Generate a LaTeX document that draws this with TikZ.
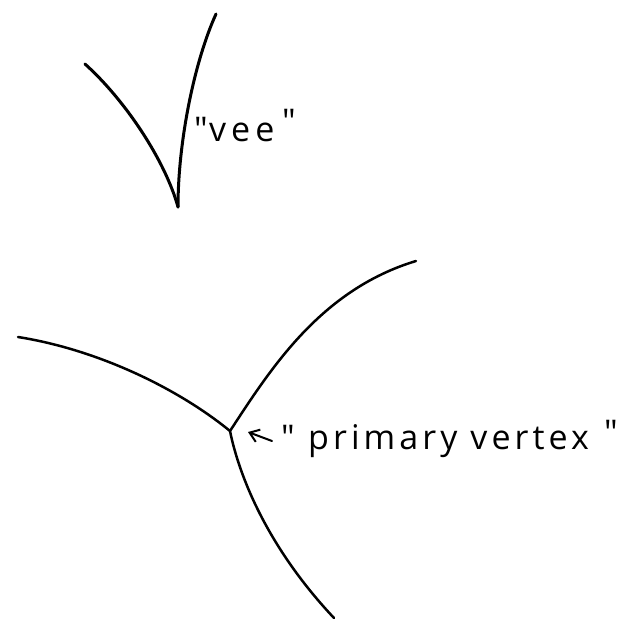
\documentclass[tikz,border=0pt]{standalone}
\usepackage{fontspec}
\newfontfamily\lblfont{Open Sans}[LetterSpace=12]
\usetikzlibrary{arrows.meta}
\begin{document}
\begin{tikzpicture}[x=1pt,y=-1pt,
  vstroke/.style={line width=3pt, line cap=round, line join=round},
  bstroke/.style={line width=2.5pt, line cap=round, line join=round},
  lbl/.style={font=\lblfont\fontsize{34}{40}\selectfont, inner sep=0pt, anchor=base west},
  ptr/.style={line width=2pt, line cap=round, -{Straight Barb[length=9pt,width=13pt]}}]
\useasboundingbox (0,0) rectangle (626,623);
% vee
\coordinate (vL) at (85,64);
\coordinate (vB) at (178,207);
\coordinate (vR) at (216,14);
\draw[vstroke] (vL) .. controls (125,100) and (165,160) .. (vB);
\draw[vstroke] (vB) .. controls (178,140) and (195,60) .. (vR);
\node[lbl] (vq1) at (194,141) {\symbol{34}};
\node[lbl] (vee) at (209,141) {v\kern5pt e\kern5pt e};
\node[lbl] (vq2) at (282,134) {\symbol{34}};
% primary vertex
\coordinate (pv) at (230,431);
\coordinate (eL) at (18,337);
\coordinate (eR) at (416,261);
\coordinate (eD) at (334,618);
\draw[bstroke] (eL) .. controls (100,350) and (180,390) .. (pv);
\draw[bstroke] (pv) .. controls (270,370) and (320,290) .. (eR);
\draw[bstroke] (pv) .. controls (240,480) and (270,550) .. (eD);
\node[lbl] (pq1) at (281,449) {\symbol{34}};
\node[lbl] (pvl) at (308,449) {primary vertex};
\node[lbl] (pq2) at (604,444) {\symbol{34}};
\coordinate (at) at (272,441);
\draw[ptr] (at) -- (248,432);
\end{tikzpicture}
\end{document}
